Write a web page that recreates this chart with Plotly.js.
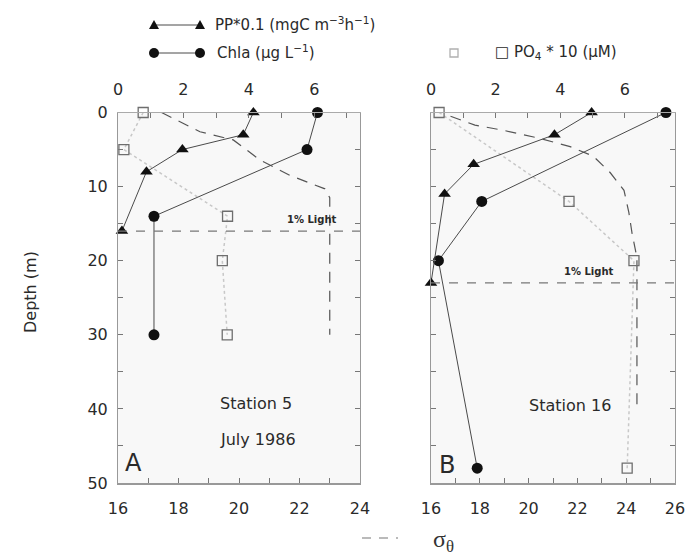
<!DOCTYPE html>
<html>
<head>
<meta charset="utf-8">
<script src="https://cdn.plot.ly/plotly-3.0.1.min.js"></script>
<style>html,body{margin:0;padding:0;background:#fff;}</style>
</head>
<body>
<div id="chart" style="width:698px;height:558px;"></div>
<script>
// ---------- Station 5 (panel A) ----------
const depthPP_A  = [0, 3, 5, 8, 16];
const pp_A       = [4.14, 3.83, 1.97, 0.87, 0.12];
const depthChl_A = [0, 5, 14, 30];
const chl_A      = [6.1, 5.78, 1.1, 1.1];
const depthPO4_A = [0, 5, 14, 20, 30];
const po4_A      = [0.77, 0.18, 3.35, 3.19, 3.34];
const depthSig_A = [0, 2.6, 3.7, 6.4, 8.5, 10.3, 11.5, 30];
const sig_A      = [17.44, 18.71, 19.81, 20.69, 21.69, 22.84, 23.0, 23.0];
const lightDepth_A = 16;

// ---------- Station 16 (panel B) ----------
const depthPP_B  = [0, 3, 7, 11, 23];
const pp_B       = [4.97, 3.82, 1.32, 0.42, 0.0];
const depthChl_B = [0, 12, 20, 48];
const chl_B      = [7.27, 1.57, 0.23, 1.43];
const depthPO4_B = [0, 12, 20, 48];
const po4_B      = [0.25, 4.27, 6.28, 6.07];
const depthSig_B = [0.5, 1.7, 2.4, 3.5, 4.6, 5.9, 8.1, 10.5, 13.5, 16.3, 19.6, 40];
const sig_B      = [16.8, 17.8, 18.96, 20.47, 21.7, 22.65, 23.34, 23.91, 24.11, 24.24, 24.44, 24.44];
const lightDepth_B = 23;

// ---------- ticks ----------
const depthTicks = [0, 10, 20, 30, 40, 50];
const depthMinor = [5, 15, 25, 35, 45];
const topTicks = [0, 2, 4, 6];
const topMinor = [1, 3, 5, 7];
const sigTicksA = [16, 18, 20, 22, 24];
const sigMinorA = [17, 19, 21, 23];
const sigTicksB = [16, 18, 20, 22, 24, 26];
const sigMinorB = [17, 19, 21, 23, 25];

const W = 698, H = 558;
const px = v => v / W;
const py = v => 1 - v / H;

const FONT = 'DejaVu Sans, sans-serif';
const TXT = '#2a2a2a';
const LINE = '#4a4a4a';

function ppTrace(x, y, xa, ya) {
  return {x, y, xaxis: xa, yaxis: ya, type: 'scatter', mode: 'lines+markers',
    line: {color: LINE, width: 1},
    marker: {symbol: 'triangle-up', size: 11, color: '#111'}, cliponaxis: false};
}
function chlTrace(x, y, xa, ya) {
  return {x, y, xaxis: xa, yaxis: ya, type: 'scatter', mode: 'lines+markers',
    line: {color: LINE, width: 1},
    marker: {symbol: 'circle', size: 11, color: '#111'}, cliponaxis: false};
}
function po4Trace(x, y, xa, ya) {
  return {x, y, xaxis: xa, yaxis: ya, type: 'scatter', mode: 'lines+markers',
    line: {color: '#c8c8c8', width: 1.5, dash: 'dot'},
    marker: {symbol: 'square-open', size: 10, color: '#6e6e6e', line: {width: 1.3}}, cliponaxis: false};
}
function sigTrace(x, y, xa, ya) {
  return {x, y, xaxis: xa, yaxis: ya, type: 'scatter', mode: 'lines',
    line: {color: '#555', width: 1.2, dash: '11px,8px'}};
}

const data = [
  sigTrace(sig_A, depthSig_A, 'x', 'y'),
  po4Trace(po4_A, depthPO4_A, 'x2', 'y'),
  chlTrace(chl_A, depthChl_A, 'x2', 'y'),
  ppTrace(pp_A, depthPP_A, 'x2', 'y'),
  sigTrace(sig_B, depthSig_B, 'x3', 'y2'),
  po4Trace(po4_B, depthPO4_B, 'x4', 'y2'),
  chlTrace(chl_B, depthChl_B, 'x4', 'y2'),
  ppTrace(pp_B, depthPP_B, 'x4', 'y2')
];

const domA = [px(118), px(360)];
const domB = [px(431), px(675)];
const domY = [py(483), py(112.5)];

const tickFont = {family: FONT, size: 16, color: TXT};
const minorStyle = vals => ({tickmode: 'array', tickvals: vals, ticks: 'inside', ticklen: 5, tickcolor: '#777', showgrid: false});

function bottomAxis(dom, range, vals, minorVals, anchor) {
  return {domain: dom, range, anchor, side: 'bottom', tickmode: 'array', tickvals: vals,
    minor: minorStyle(minorVals),
    ticks: 'inside', ticklen: 5, tickcolor: '#777', showline: true, linecolor: '#999', linewidth: 2,
    showgrid: false, zeroline: false, tickfont: tickFont, ticklabelstandoff: 10, fixedrange: true};
}
function topAxis(range, over, anchor) {
  return {range, overlaying: over, anchor, side: 'top', tickmode: 'array', tickvals: topTicks,
    minor: minorStyle(topMinor),
    ticks: 'inside', ticklen: 5, tickcolor: '#777', showline: true, linecolor: '#aaa', linewidth: 1,
    showgrid: false, zeroline: false, tickfont: tickFont, ticklabelstandoff: 10, fixedrange: true};
}
function depthAxis(anchor, showLabels) {
  return {domain: domY, range: [50, 0], anchor, tickmode: 'array', tickvals: depthTicks,
    minor: minorStyle(depthMinor),
    ticks: 'inside', ticklen: 5, tickcolor: '#777', showline: true, linecolor: '#999', linewidth: 1, mirror: 'ticks',
    showgrid: false, zeroline: false, showticklabels: showLabels, tickfont: tickFont, ticklabelstandoff: 6,
    fixedrange: true};
}

const shapes = [
  // 1% light lines
  {type: 'line', xref: 'x domain', yref: 'y', x0: 0, x1: 1, y0: lightDepth_A, y1: lightDepth_A,
   line: {color: '#777', width: 1.2, dash: '9px,9px'}},
  {type: 'line', xref: 'x3 domain', yref: 'y2', x0: 0, x1: 1, y0: lightDepth_B, y1: lightDepth_B,
   line: {color: '#777', width: 1.2, dash: '9px,9px'}},
  // legend samples
  {type: 'line', xref: 'paper', yref: 'paper', x0: px(154), x1: px(200), y0: py(25), y1: py(25),
   line: {color: LINE, width: 1}},
  {type: 'path', xref: 'paper', yref: 'paper',
   path: `M ${px(149)} ${py(29)} L ${px(159)} ${py(29)} L ${px(154)} ${py(20)} Z`, fillcolor: '#111', line: {width: 0}},
  {type: 'path', xref: 'paper', yref: 'paper',
   path: `M ${px(195)} ${py(29)} L ${px(205)} ${py(29)} L ${px(200)} ${py(20)} Z`, fillcolor: '#111', line: {width: 0}},
  {type: 'line', xref: 'paper', yref: 'paper', x0: px(154), x1: px(200), y0: py(53), y1: py(53),
   line: {color: LINE, width: 1}},
  {type: 'circle', xref: 'paper', yref: 'paper', x0: px(149), x1: px(159), y0: py(58), y1: py(48),
   fillcolor: '#111', line: {width: 0}},
  {type: 'circle', xref: 'paper', yref: 'paper', x0: px(195), x1: px(205), y0: py(58), y1: py(48),
   fillcolor: '#111', line: {width: 0}},
  {type: 'rect', xref: 'paper', yref: 'paper', x0: px(450), x1: px(458), y0: py(57), y1: py(49),
   fillcolor: 'rgba(0,0,0,0)', line: {color: '#b0b0b0', width: 1.3}},
  // sigma-theta key dashes
  {type: 'line', xref: 'paper', yref: 'paper', x0: px(362), x1: px(398), y0: py(538), y1: py(538),
   line: {color: '#777', width: 1.2, dash: '9px,8px'}}
];

function ann(text, x, y, size, opts) {
  return Object.assign({text, xref: 'paper', yref: 'paper', x: px(x), y: py(y), showarrow: false,
    font: {family: FONT, size, color: TXT}, xanchor: 'center', yanchor: 'middle'}, opts || {});
}

const annotations = [
  ann('PP*0.1 (mgC m<sup>\u22123</sup>h<sup>\u22121</sup>)', 213, 24, 15, {xanchor: 'left'}),
  ann('Chla (\u03bcg L<sup>\u22121</sup>)', 215, 52, 15, {xanchor: 'left'}),
  ann('\u25a1 PO<sub>4</sub> * 10 (\u03bcM)', 493, 53, 15, {xanchor: 'left'}),
  ann('1% Light', 312, 219, 10, {font: {family: FONT, size: 10, color: TXT, weight: 'bold'}}),
  ann('1% Light', 589, 272, 10, {font: {family: FONT, size: 10, color: TXT, weight: 'bold'}}),
  ann('Station 5', 256, 403, 16),
  ann('July 1986', 258, 439, 16),
  ann('A', 133, 463, 24),
  ann('Station 16', 570, 405, 16),
  ann('B', 447, 465, 24),
  ann('Depth (m)', 30, 292, 16, {textangle: -90}),
  ann('\u03c3<sub>\u03b8</sub>', 444, 541, 24, {font: {family: 'Liberation Serif, serif', size: 24, color: '#333'}})
];

const layout = {
  width: W, height: H,
  margin: {l: 0, r: 0, t: 0, b: 0},
  paper_bgcolor: '#ffffff',
  plot_bgcolor: '#f8f8f8',
  showlegend: false,
  font: {family: FONT, color: TXT},
  xaxis:  bottomAxis(domA, [16, 24], sigTicksA, sigMinorA, 'y'),
  xaxis2: topAxis([0, 7.4], 'x', 'y'),
  xaxis3: bottomAxis(domB, [16, 26], sigTicksB, sigMinorB, 'y2'),
  xaxis4: topAxis([0, 7.55], 'x3', 'y2'),
  yaxis:  depthAxis('x', true),
  yaxis2: depthAxis('x3', false),
  shapes, annotations
};

Plotly.newPlot('chart', data, layout, {staticPlot: true, displayModeBar: false});
</script>
</body>
</html>
